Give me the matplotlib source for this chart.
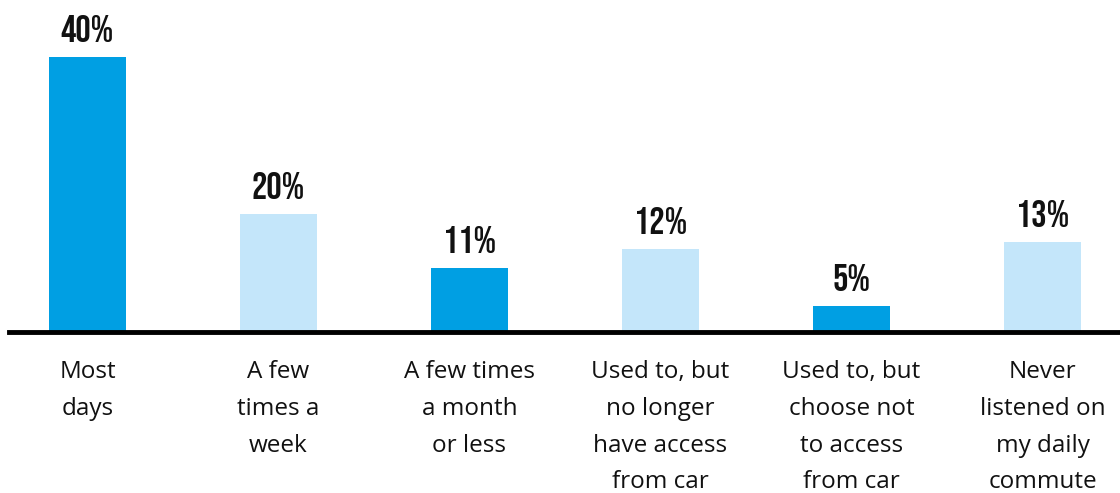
import matplotlib.pyplot as plt
from matplotlib import font_manager

categories = ['Most\ndays', 'A few\ntimes a\nweek', 'A few times\na month\nor less',
              'Used to, but\nno longer\nhave access\nfrom car',
              'Used to, but\nchoose not\nto access\nfrom car',
              'Never\nlistened on\nmy daily\ncommute']
value_labels = ['40%', '20%', '11%', '12%', '5%', '13%']
# bar heights as drawn in the picture (not quite proportional to the labels)
heights = [40.1, 17.2, 9.3, 12.1, 3.8, 13.1]
colors = ['#009FE3', '#C4E6FA', '#009FE3', '#C4E6FA', '#009FE3', '#C4E6FA']

# condensed display font for the numbers, if one is around
names = {f.name for f in font_manager.fontManager.ttflist}
num_font, num_size, num_weight = 'DejaVu Sans', 20, 'bold'
for fam, size, wt in [('Bebas Neue', 27.5, 'normal'), ('Oswald', 22, 'medium'),
                      ('League Gothic', 32, 'normal'), ('Roboto Condensed', 22, 'bold'),
                      ('Liberation Sans Narrow', 24, 'bold')]:
    if fam in names:
        num_font, num_size, num_weight = fam, size, wt
        break

W, H = 1120, 493
fig = plt.figure(figsize=(W / 100, H / 100), dpi=100)
base_px = 332
ax = fig.add_axes([9 / W, 1 - base_px / H, 1 - 9 / W, base_px / H])

x = list(range(len(categories)))
ax.bar(x, heights, width=0.40, color=colors, zorder=2)
ax.set_xlim(-0.411, 5.406)
ax.set_ylim(0, base_px / 6.85)

for xi, h, lab in zip(x, heights, value_labels):
    ax.annotate(lab, (xi, h), xytext=(0, 11), textcoords='offset points',
                ha='center', va='bottom', fontsize=num_size, fontweight=num_weight,
                family=num_font, color='#111111')

for xi, cat in zip(x, categories):
    ax.annotate(cat, (xi, 0), xytext=(0, -20.5), textcoords='offset points',
                ha='center', va='top', fontsize=17.5, family='Open Sans',
                color='#111111', linespacing=1.7, annotation_clip=False)

ax.axhline(0, color='black', lw=3.5, zorder=3, clip_on=False)
for s in ax.spines.values():
    s.set_visible(False)
ax.set_xticks([])
ax.set_yticks([])

fig.savefig('out.png', dpi=100)
